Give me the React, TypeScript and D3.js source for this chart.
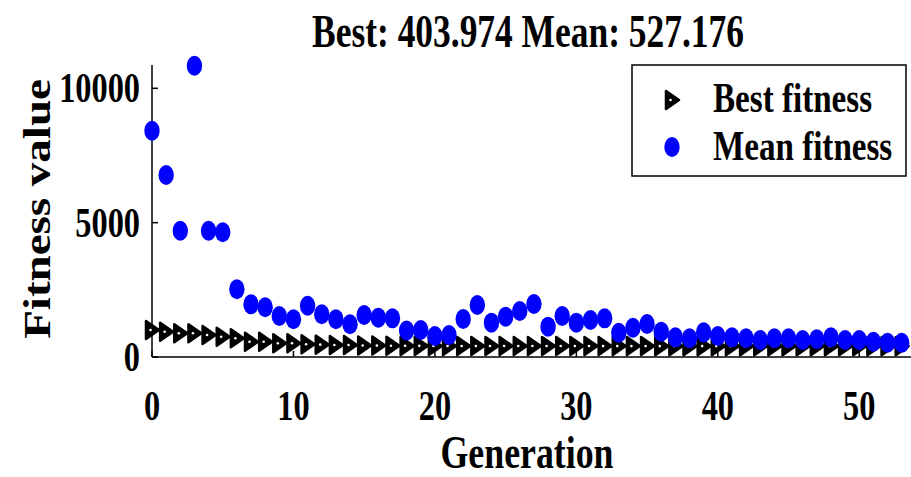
import React from "react";
import * as d3 from "d3";

const generations: number[] = Array.from({ length: 54 }, (_, i) => i);
const meanFitness: number[] = [
  8422, 6773, 4700, 10841, 4700, 4641, 2520, 1961, 1850, 1526,
  1403, 1909, 1589, 1403, 1217, 1563, 1463, 1440, 986, 1005,
  782, 819, 1414, 1935, 1277, 1500, 1712, 1972, 1128, 1526,
  1277, 1377, 1440, 904, 1090, 1228, 942, 733, 696, 919,
  782, 733, 696, 633, 696, 696, 633, 659, 733, 633,
  633, 569, 532, 527.176,
];
const bestFitness: number[] = [
  1005, 942, 882, 882, 819, 755, 696, 569, 569, 510,
  510, 472, 460, 447, 447, 430, 425, 420, 415, 415,
  412, 412, 410, 410, 410, 408, 408, 408, 408, 407,
  407, 407, 406, 406, 406, 406, 405, 405, 405, 405,
  405, 405, 404.5, 404.5, 404.5, 404.5, 404.2, 404.2, 404.2, 404.1,
  404.1, 404, 404, 403.974,
];
const xTicks: number[] = [0, 10, 20, 30, 40, 50];
const yTicks: number[] = [0, 5000, 10000];
const titleText = "Best: 403.974 Mean: 527.176";
const xLabel = "Generation";
const yLabel = "Fitness value";
const legendLabels: string[] = ["Best fitness", "Mean fitness"];

const W = 911;
const H = 477;
const SX = 0.77;
const FONT = "'Liberation Serif', 'Times New Roman', serif";

export default function App() {
  const x = d3.scaleLinear().domain([0, 53.8]).range([152, 913]);
  const y = d3.scaleLinear().domain([0, 10867]).range([357, 65]);

  const Tri = ({ cx, cy }: { cx: number; cy: number }) => (
    <g>
      <path
        d={`M${cx - 6},${cy - 9} L${cx + 7},${cy} L${cx - 6},${cy + 9} Z`}
        fill="#000"
        stroke="#000"
        strokeWidth={2.5}
        strokeLinejoin="round"
      />
      <circle cx={cx - 1.5} cy={cy} r={1.3} fill="#fff" />
    </g>
  );

  const txt = (
    s: string,
    tx: number,
    ty: number,
    size: number,
    anchor: string,
    key?: string
  ) => (
    <text
      key={key}
      transform={`translate(${tx},${ty}) scale(${SX},1)`}
      textAnchor={anchor}
      fontFamily={FONT}
      fontWeight="bold"
      fontSize={size}
      fill="#000"
    >
      {s}
    </text>
  );

  return (
    <svg
      width={W}
      height={H}
      style={{ position: "absolute", left: 0, top: 0, background: "#fff" }}
    >
      <rect x={0} y={0} width={W} height={H} fill="#fff" />
      {/* axes */}
      <line x1={x(0)} y1={y.range()[0]} x2={W} y2={y.range()[0]} stroke="#000" strokeWidth={1.5} />
      <line x1={x(0)} y1={y.range()[0]} x2={x(0)} y2={y.range()[1]} stroke="#000" strokeWidth={1.5} />
      {xTicks.map((t) => (
        <g key={"xt" + t}>
          <line x1={x(t)} x2={x(t)} y1={357} y2={351} stroke="#000" strokeWidth={1.5} />
          {txt(String(t), x(t), 420, 42, "middle")}
        </g>
      ))}
      {yTicks.map((t) => (
        <g key={"yt" + t}>
          <line x1={152} x2={158} y1={y(t)} y2={y(t)} stroke="#000" strokeWidth={1.5} />
          {txt(String(t), 140, y(t) + 14, 42, "end")}
        </g>
      ))}
      {/* best fitness triangles */}
      {generations.map((g, i) => (
        <Tri key={"b" + i} cx={x(g)} cy={y(bestFitness[i])} />
      ))}
      {/* mean fitness circles */}
      {generations.map((g, i) => (
        <ellipse key={"m" + i} cx={x(g)} cy={y(meanFitness[i])} rx={7.7} ry={10} fill="#0000ff" />
      ))}
      {/* title */}
      {txt(titleText, 528, 47, 46, "middle")}
      {/* x label */}
      {txt(xLabel, 527, 468, 46.5, "middle")}
      {/* y label */}
      <text
        transform={`translate(50,209) scale(0.8,1) rotate(-90)`}
        textAnchor="middle"
        fontFamily={FONT}
        fontWeight="bold"
        fontSize={47}
        fill="#000"
      >
        {yLabel}
      </text>
      {/* legend */}
      <rect x={632} y={65} width={274} height={111} fill="#fff" stroke="#000" strokeWidth={1.5} />
      <Tri cx={672} cy={100} />
      <ellipse cx={672} cy={147} rx={7.7} ry={10} fill="#0000ff" />
      {txt(legendLabels[0], 713, 112, 43, "start")}
      {txt(legendLabels[1], 713, 160, 43, "start")}
    </svg>
  );
}
